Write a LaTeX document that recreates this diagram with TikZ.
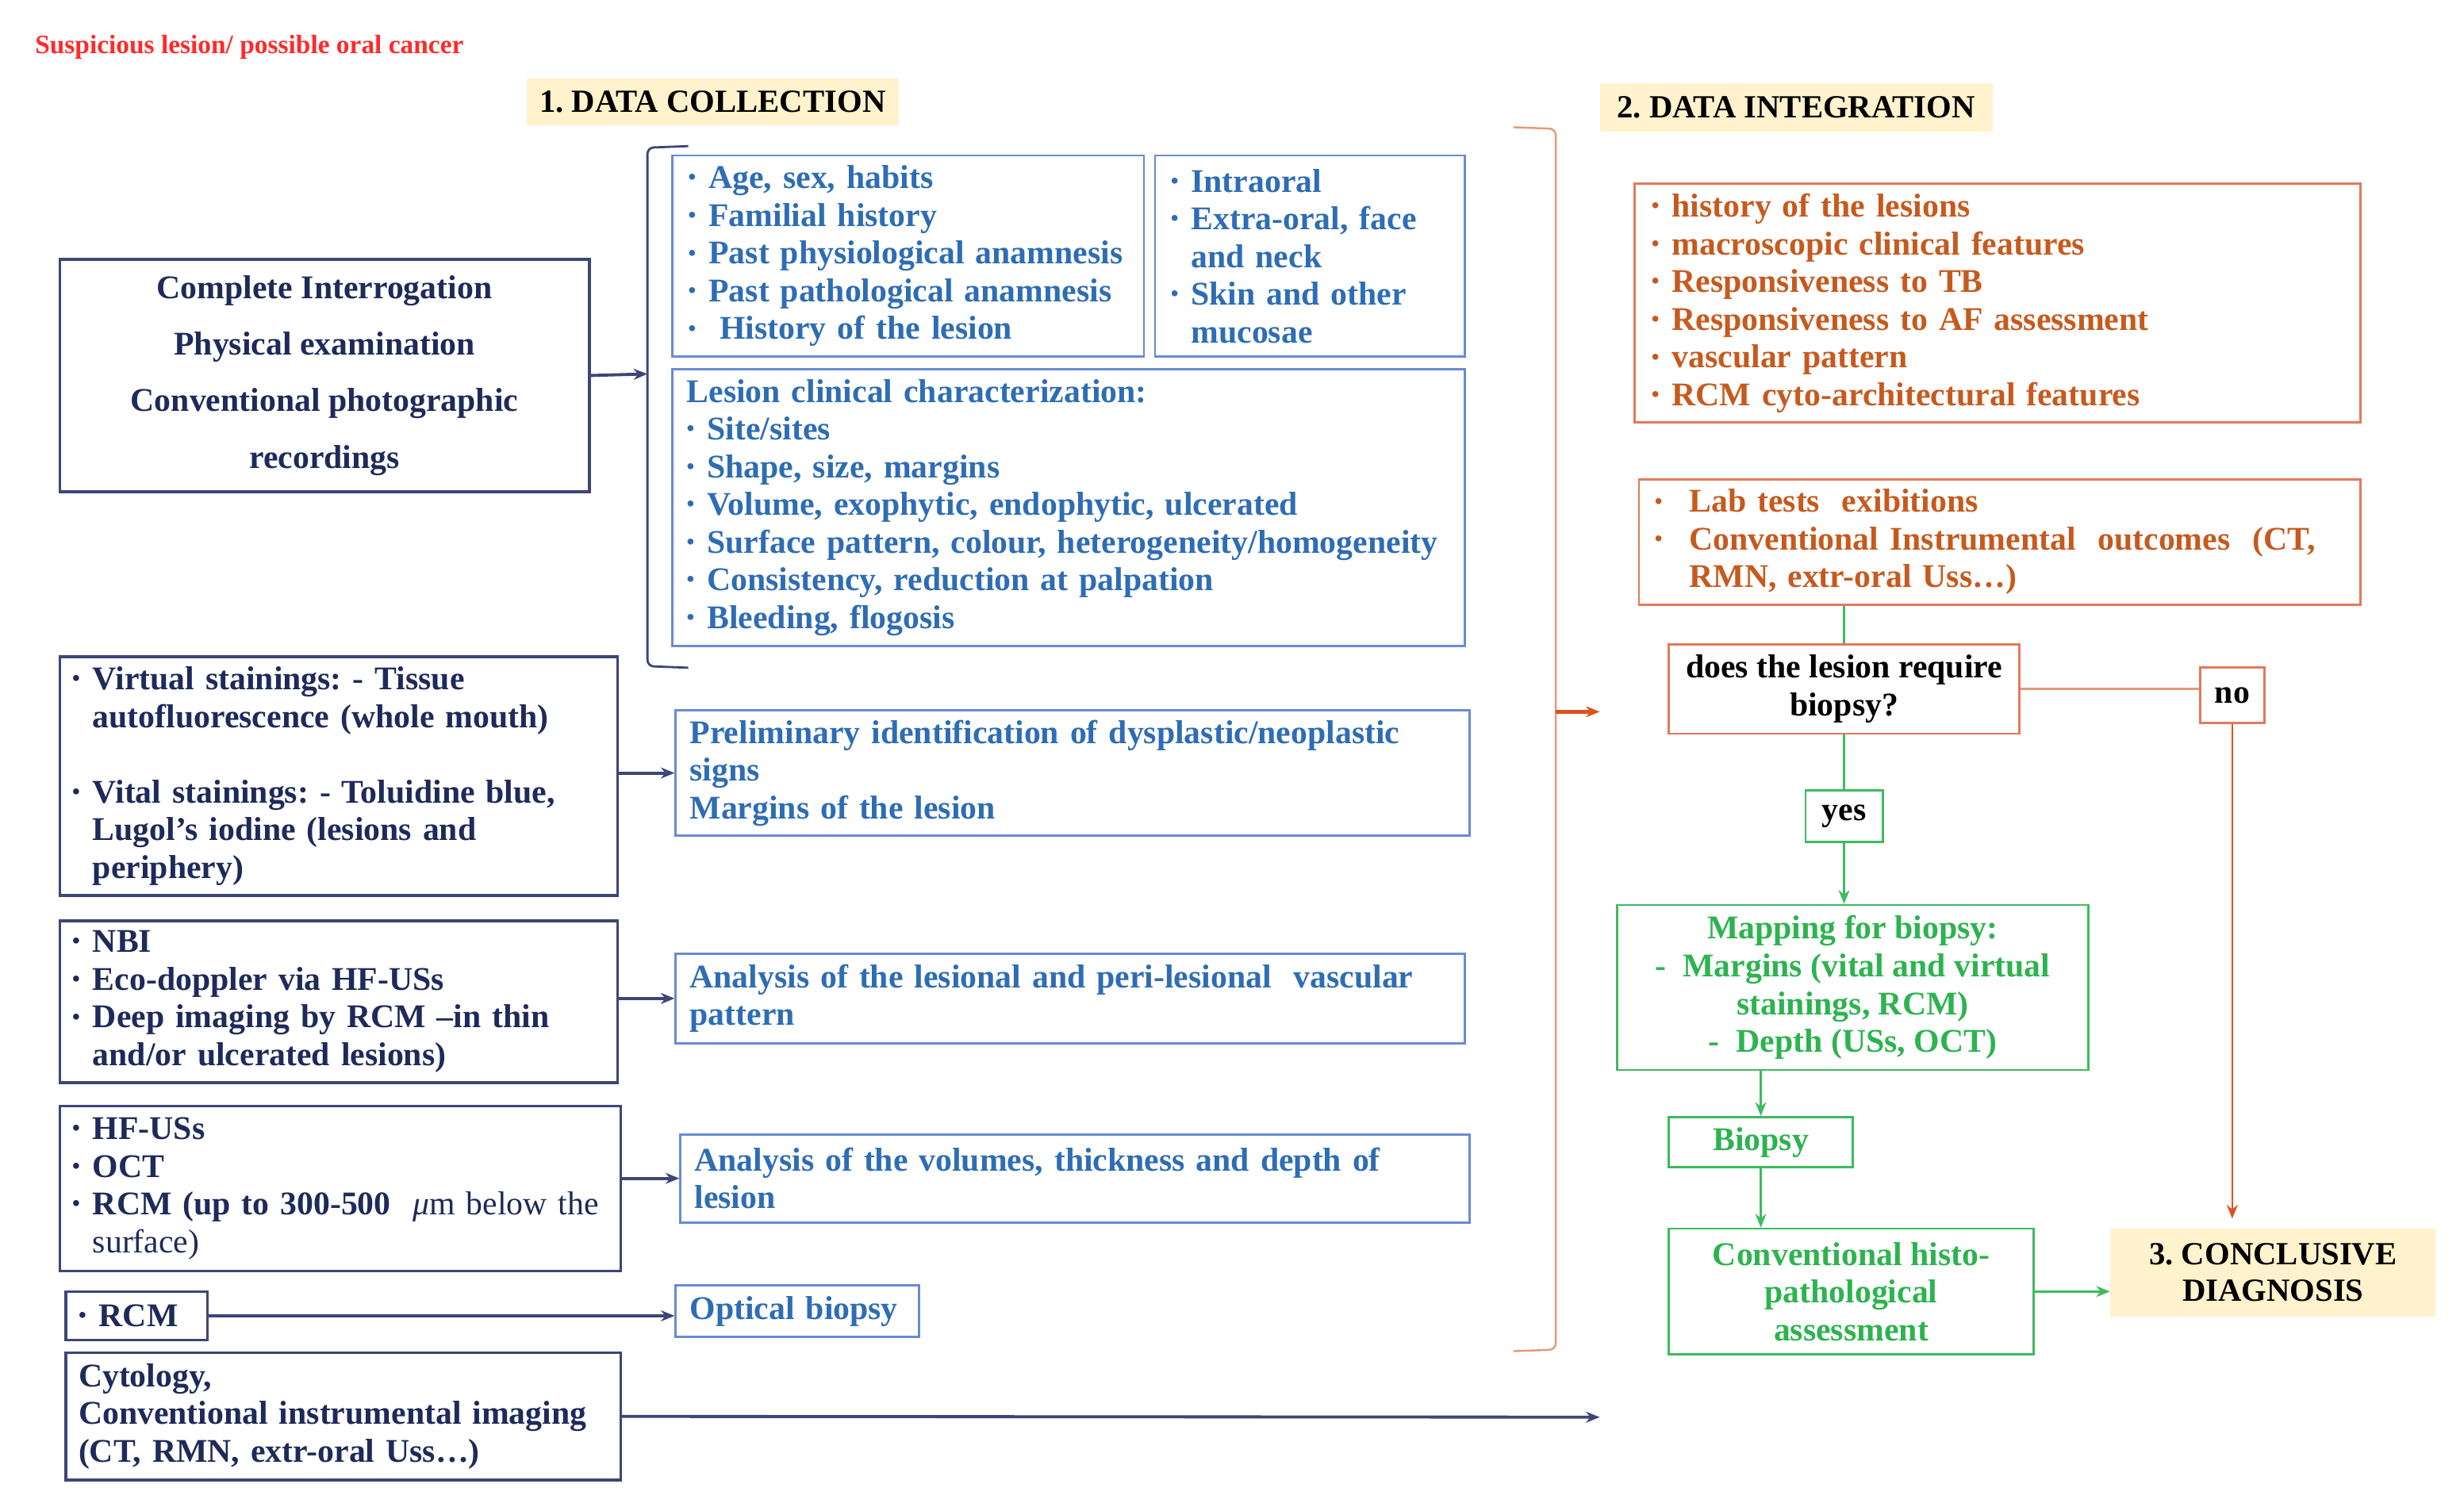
\documentclass[tikz,border=0pt]{standalone}
\usepackage{fontspec}
\setmainfont{Liberation Serif}
\usetikzlibrary{arrows.meta}
\frenchspacing
\newdimen\uu \uu=0.02cm
\definecolor{navyt}{HTML}{1E2A5A}
\definecolor{navyb}{HTML}{3C4677}
\definecolor{bluet}{HTML}{2E6DB4}
\definecolor{blueb}{HTML}{6A8AD6}
\definecolor{oranget}{HTML}{C65A1E}
\definecolor{orangeb}{HTML}{E07A5C}
\definecolor{orangel}{HTML}{E39A7A}
\definecolor{orangea}{HTML}{D9531E}
\definecolor{greent}{HTML}{2DB34F}
\definecolor{greenb}{HTML}{3DBB5E}
\definecolor{headfill}{HTML}{FFF2CC}
\definecolor{titlered}{HTML}{FF2A2A}
\newcommand\dotb{\raisebox{0.25ex}{\fontsize{8}{8}\selectfont •}}
\newcommand\bul{\makebox[13\uu][l]{\dotb}}
\newcommand\obul{\makebox[22\uu][l]{\dotb}}
\newcommand\ind{\hspace*{13\uu}}
\tikzset{
 base/.style={rectangle, inner ysep=1pt, font=\bfseries\fontsize{12}{13.66}\selectfont},
 navybox/.style={base, draw=navyb, line width=1pt, text=navyt},
 bluebox/.style={base, draw=blueb, line width=0.8pt, text=bluet},
 orangebox/.style={base, draw=orangeb, line width=0.8pt, text=oranget},
 greenbox/.style={base, draw=greenb, line width=0.8pt, text=greent},
 headbox/.style={base, fill=headfill, text=black, font=\bfseries\fontsize{11.7}{13.3}\selectfont},
 navyarrow/.style={draw=navyb, line width=1.1pt, -{Stealth[length=5pt,width=4pt]}},
 navyline/.style={draw=navyb, line width=1pt},
 orangeline/.style={draw=orangel, line width=0.7pt},
 orangearrow/.style={draw=orangea, line width=0.7pt, -{Stealth[length=5pt,width=4pt]}},
 greenline/.style={draw=greenb, line width=0.7pt},
 greenarrow/.style={draw=greenb, line width=0.7pt, -{Stealth[length=5pt,width=4pt]}},
}
\begin{document}
\begin{tikzpicture}[x=0.02cm, y=-0.02cm]
\useasboundingbox (0,0) rectangle (1568,959);

% title and headings
\node[anchor=west, text=titlered, font=\bfseries\fontsize{9.6}{11}\selectfont, inner sep=0] (title) at (22,30) {Suspicious lesion/ possible oral cancer};
\node[headbox, minimum width=237\uu, minimum height=30\uu] (H1) at (453.5,65) {1. DATA COLLECTION};
\node[headbox, minimum width=250\uu, minimum height=31\uu] (H2) at (1143,68.5) {2. DATA INTEGRATION};
\node[headbox, align=center, minimum width=207\uu, minimum height=56\uu] (H3) at (1446.5,810) {3. CONCLUSIVE\\DIAGNOSIS};

% left column
\node[navybox, align=center, font=\bfseries\fontsize{12}{20.5}\selectfont, minimum width=337\uu, minimum height=148\uu] (A) at (206.5,239) {Complete Interrogation\\Physical examination\\Conventional photographic\\recordings};

\node[navybox, align=left, minimum width=355\uu, text width=339\uu, inner xsep=8\uu, minimum height=152\uu] (E) at (215.5,494) {\bul Virtual stainings: - Tissue\\\ind autofluorescence (whole mouth)\\\mbox{}\\\bul Vital stainings: - Toluidine blue,\\\ind Lugol’s iodine (lesions and\\\ind periphery)};

\node[navybox, align=left, minimum width=355\uu, text width=339\uu, inner xsep=8\uu, minimum height=103\uu] (G) at (215.5,637.5) {\bul NBI\\\bul Eco-doppler via HF-USs\\\bul Deep imaging by RCM –in thin\\\ind and/or ulcerated lesions)};

\node[navybox, align=left, minimum width=357\uu, text width=341\uu, inner xsep=8\uu, minimum height=105\uu] (I) at (216.5,756.5) {\bul HF-USs\\\bul OCT\\\bul RCM (up to 300-500\ \ {\mdseries\itshape μ}{\mdseries m below the}\\\ind{\mdseries surface)}};

\node[navybox, align=left, minimum width=90\uu, text width=74\uu, inner xsep=8\uu, minimum height=31\uu] (K) at (87,837.5) {\bul RCM};

\node[navybox, align=left, minimum width=353\uu, text width=337\uu, inner xsep=8\uu, minimum height=81\uu] (M) at (218.5,901.5) {Cytology,\\Conventional instrumental imaging\\(CT, RMN, extr-oral Uss…)};

% blue column
\node[bluebox, align=left, minimum width=300\uu, text width=280\uu, inner xsep=10\uu, minimum height=128\uu] (B) at (578,163) {\bul Age, sex, habits\\\bul Familial history\\\bul Past physiological anamnesis\\\bul Past pathological anamnesis\\\bul\ History of the lesion};

\node[bluebox, align=left, minimum width=197\uu, text width=177\uu, inner xsep=10\uu, minimum height=128\uu] (C) at (833.5,163) {\bul Intraoral\\\bul Extra-oral, face\\\ind and neck\\\bul Skin and other\\\ind mucosae};

\node[bluebox, align=left, minimum width=504\uu, text width=486\uu, inner xsep=9\uu, minimum height=176\uu] (D) at (680,323) {Lesion clinical characterization:\\\bul Site/sites\\\bul Shape, size, margins\\\bul Volume, exophytic, endophytic, ulcerated\\\bul Surface pattern, colour, heterogeneity/homogeneity\\\bul Consistency, reduction at palpation\\\bul Bleeding, flogosis};

\node[bluebox, align=left, minimum width=505\uu, text width=487\uu, inner xsep=9\uu, minimum height=80\uu] (F) at (682.5,492) {Preliminary identification of dysplastic/neoplastic\\signs\\Margins of the lesion};

\node[bluebox, align=left, minimum width=502\uu, text width=484\uu, inner xsep=9\uu, minimum height=57\uu] (H) at (681,635.5) {Analysis of the lesional and peri-lesional\ \ vascular\\pattern};

\node[bluebox, align=left, minimum width=502\uu, text width=484\uu, inner xsep=9\uu, minimum height=56\uu] (J) at (684,750) {Analysis of the volumes, thickness and depth of\\lesion};

\node[bluebox, align=left, minimum width=155\uu, text width=137\uu, inner xsep=9\uu, minimum height=33\uu] (L) at (507.5,834.5) {Optical biopsy};

% data integration column
\node[orangebox, align=left, minimum width=462\uu, text width=440\uu, inner xsep=11\uu, minimum height=152\uu] (N) at (1271,193) {\bul history of the lesions\\\bul macroscopic clinical features\\\bul Responsiveness to TB\\\bul Responsiveness to AF assessment\\\bul vascular pattern\\\bul RCM cyto-architectural features};

\node[orangebox, align=left, minimum width=459\uu, text width=439\uu, inner xsep=10\uu, minimum height=80\uu] (O) at (1272.5,345) {\obul Lab tests\ \ exibitions\\\obul Conventional Instrumental\ \ outcomes\ \ (CT,\\\hspace*{22\uu}RMN, extr-oral Uss…)};

\node[orangebox, text=black, align=center, minimum width=223\uu, minimum height=57\uu] (Q) at (1173.5,438.5) {does the lesion require\\biopsy?};
\node[orangebox, text=black, minimum width=41\uu, minimum height=35\uu, inner xsep=1pt] (R) at (1420.5,442.5) {no};
\node[greenbox, text=black, minimum width=49\uu, minimum height=33\uu, inner xsep=1pt] (S) at (1173.5,519.5) {yes};
\node[greenbox, align=center, minimum width=300\uu, minimum height=105\uu] (T) at (1179,628.5) {Mapping for biopsy:\\-\ \ Margins (vital and virtual\\stainings, RCM)\\-\ \ Depth (USs, OCT)};
\node[greenbox, minimum width=117\uu, minimum height=32\uu] (U) at (1120.5,727) {Biopsy};
\node[greenbox, align=center, minimum width=232\uu, minimum height=80\uu] (V) at (1178,822) {Conventional histo-\\pathological\\assessment};

% brackets
\draw[navyline, line width=0.8pt, rounded corners=4\uu] (438,93) -- (412,94) -- (412,424) -- (438,425);
\draw[orangeline, rounded corners=4\uu] (963,81) -- (990,82) -- (990,859) -- (963,860);
\coordinate (br1) at (412,238);
\coordinate (br2) at (990,453);
\coordinate (br2e) at (1018,453);
\coordinate (m1) at (1018,902);

% connectors
\draw[navyarrow] (A.east) -- (br1);
\draw[navyarrow] (E.east |- F.west) -- (F.west);
\draw[navyarrow] (G.east |- H.west) -- (H.west);
\draw[navyarrow] (I.east |- J.west) -- (J.west);
\draw[navyarrow] (K.east) -- (K.east -| L.west);
\draw[navyarrow] (M.east) -- (m1);
\draw[orangearrow, line width=1.5pt] (br2) -- (br2e);

\draw[greenline] (O.south -| Q.north) -- (Q.north);
\draw[orangeline] (Q.east) -- (Q.east -| R.west);
\draw[orangearrow, shorten >=6\uu] (R.south) -- (R.south |- H3.north);
\draw[greenline] (Q.south) -- (S.north);
\draw[greenarrow] (S.south) -- (S.south |- T.north);
\draw[greenarrow] (U.north |- T.south) -- (U.north);
\draw[greenarrow] (U.south) -- (U.south |- V.north);
\draw[greenarrow] (V.east) -- (V.east -| H3.west);
\end{tikzpicture}
\end{document}
